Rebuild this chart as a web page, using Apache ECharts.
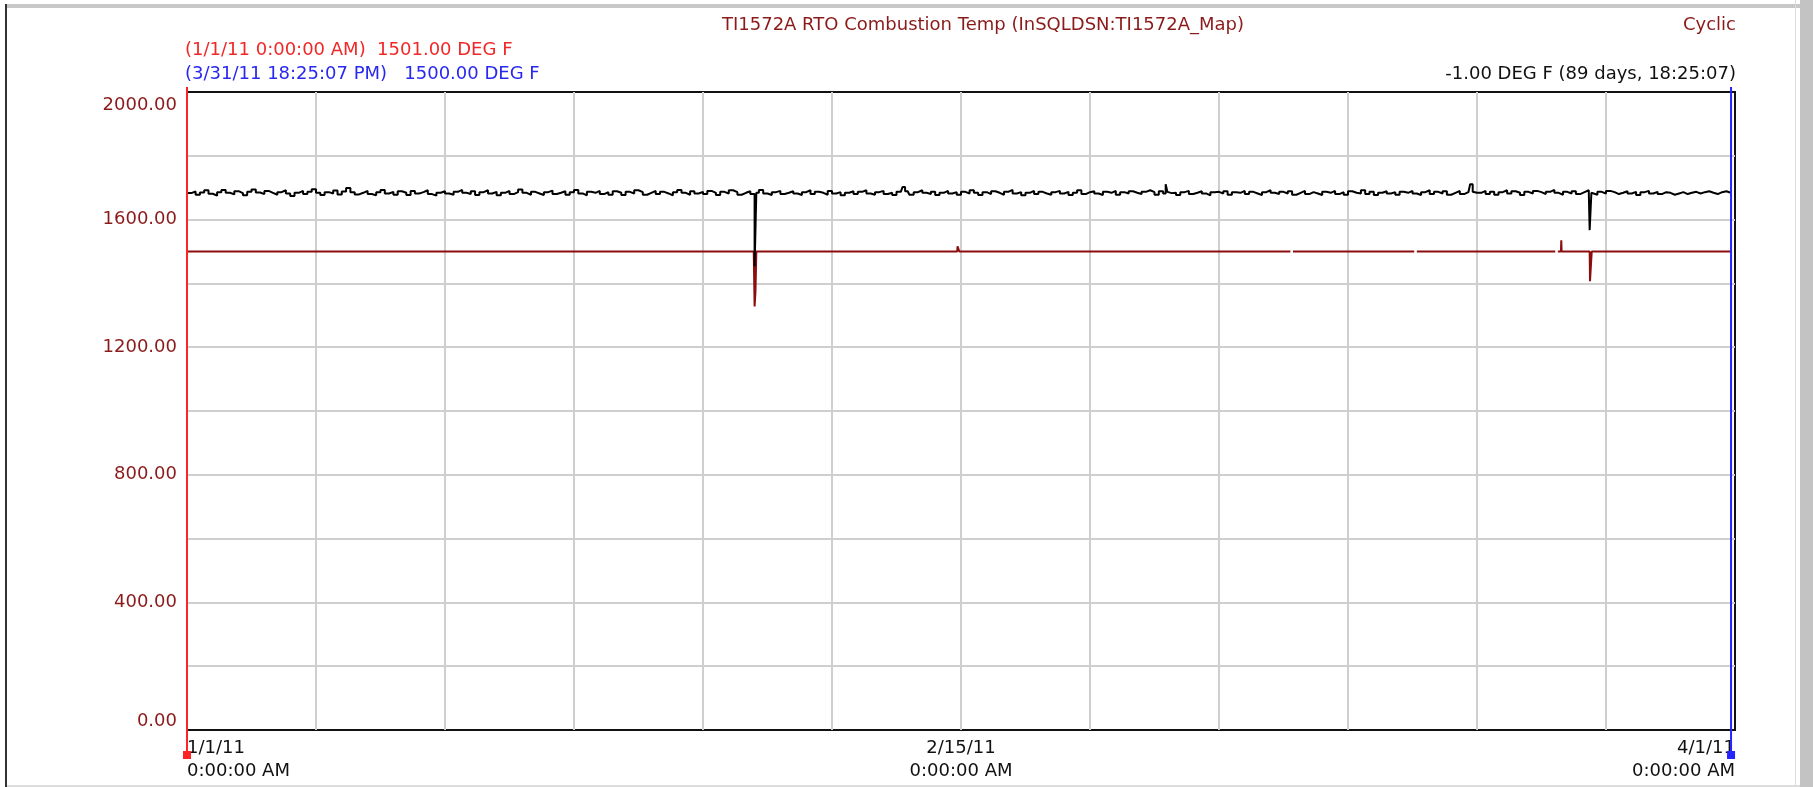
<!DOCTYPE html>
<html>
<head>
<meta charset="utf-8">
<title>TI1572A RTO Combustion Temp</title>
<script src="https://cdn.jsdelivr.net/npm/echarts@6/dist/echarts.min.js"></script>
<style>
  html, body { margin: 0; padding: 0; background: #fff; }
  #trend { width: 1813px; height: 787px; }
</style>
</head>
<body>
<div id="trend"></div>
<script>
// header texts
const chartTitle = "TI1572A RTO Combustion Temp (InSQLDSN:TI1572A_Map)";
const modeLabel = "Cyclic";
const startCursorText = "(1/1/11 0:00:00 AM)  1501.00 DEG F";
const endCursorText = "(3/31/11 18:25:07 PM)   1500.00 DEG F";
const deltaText = "-1.00 DEG F (89 days, 18:25:07)";

// x axis is days since 1/1/11 0:00:00 AM
const xTickDays = [0, 45, 90];
const xTickLabels = ["1/1/11\n0:00:00 AM", "2/15/11\n0:00:00 AM", "4/1/11\n0:00:00 AM"];
const yLabelValues = [0, 400, 800, 1200, 1600, 2000];

// cursors: start (red) and end (blue)
const cursorDays = [0, 89.77];
const cursorColors = ["#ff2424", "#2424ff"];

// black pen, sampled every quarter day
const blackStep = 0.25;
const blackVals = [
  1683, 1688, 1678, 1685, 1692, 1681, 1675, 1686, 1693, 1684, 1679, 1689, 1683, 1676, 1687, 1694, 1685, 1680, 1690, 1684,
  1678, 1686, 1692, 1682, 1674, 1684, 1690, 1680, 1687, 1695, 1684, 1677, 1686, 1682, 1691, 1679, 1688, 1699, 1686, 1679,
  1684, 1690, 1680, 1676, 1686, 1693, 1682, 1687, 1678, 1689, 1684, 1677, 1690, 1682, 1686, 1692, 1680, 1675, 1684, 1689,
  1682, 1678, 1687, 1693, 1684, 1680, 1689, 1677, 1686, 1692, 1682, 1687, 1676, 1684, 1690, 1680, 1686, 1694, 1684, 1678,
  1687, 1682, 1677, 1686, 1691, 1680, 1684, 1689, 1678, 1686, 1693, 1682, 1676, 1687, 1684, 1690, 1680, 1686, 1678, 1689,
  1684, 1677, 1687, 1682, 1692, 1686, 1678, 1684, 1690, 1680, 1687, 1682, 1676, 1686, 1693, 1684, 1678, 1689, 1682, 1687,
  1680, 1690, 1684, 1677, 1687, 1682, 1692, 1686, 1678, 1684, 1689, 1680, 1687, 1693, 1682, 1677, 1686, 1690, 1680, 1684,
  1689, 1682, 1677, 1686, 1692, 1680, 1687, 1684, 1678, 1690, 1682, 1686, 1676, 1684, 1689, 1680, 1687, 1692, 1682, 1678,
  1686, 1690, 1680, 1684, 1677, 1687, 1682, 1689, 1678, 1686, 1692, 1684, 1680, 1687, 1677, 1684, 1690, 1682, 1686, 1678,
  1687, 1682, 1692, 1684, 1677, 1686, 1680, 1689, 1684, 1678, 1687, 1693, 1682, 1686, 1676, 1684, 1690, 1680, 1687, 1682,
  1678, 1686, 1690, 1682, 1687, 1677, 1684, 1692, 1680, 1686, 1689, 1682, 1677, 1687, 1684, 1690, 1678, 1686, 1682, 1689,
  1684, 1680, 1687, 1692, 1686, 1678, 1689, 1682, 1687, 1684, 1677, 1686, 1690, 1680, 1684, 1689, 1682, 1676, 1686, 1687,
  1682, 1689, 1678, 1686, 1684, 1690, 1680, 1687, 1682, 1677, 1686, 1692, 1684, 1680, 1687, 1682, 1689, 1678, 1684, 1690,
  1680, 1686, 1682, 1677, 1687, 1684, 1690, 1680, 1686, 1678, 1689, 1684, 1682, 1692, 1680, 1687, 1677, 1684, 1689, 1682,
  1686, 1678, 1687, 1684, 1690, 1682, 1677, 1686, 1692, 1680, 1687, 1682, 1689, 1678, 1684, 1690, 1680, 1686, 1682, 1687,
  1684, 1690, 1680, 1687, 1678, 1686, 1692, 1682, 1689, 1684, 1677, 1687, 1682, 1690, 1686, 1680, 1687, 1693, 1684, 1678,
  1687, 1682, 1689, 1680, 1686, 1692, 1684, 1678, 1687, 1682, 1690, 1686, 1680, 1684, 1689, 1682, 1687, 1677, 1686, 1690,
  1682, 1687, 1680, 1686, 1684, 1678, 1682, 1686, 1680, 1684, 1687, 1682, 1686, 1689, 1684, 1680, 1686, 1689, 1684, 1687
];
// black pen excursions [day, value]
const blackEvents = [
  [33.0, 1454], [33.1, 1684],
  [41.6, 1702], [41.9, 1684],
  [56.9, 1711], [57.1, 1683],
  [74.6, 1711], [74.8, 1684],
  [81.55, 1567], [81.65, 1684],
  [89.77, 1685]
];

// dark red pen [day, value], null = no data
const redDays = [
  0, 13.95, 14.0, 14.05, 32.95, 33.0, 33.05, 33.1, 34.15, 34.2, 34.25, 35.65, 35.7, 35.75,
  43.75, 43.8, 43.85, 44.78, 44.8, 44.88, 44.9, 64.15, 64.2, 64.3, 71.05, 71.1, 71.15, 71.35, 71.4, 71.5,
  74.75, 74.8, 74.85, 79.55, 79.6, 79.7, 79.88, 79.9, 79.92, 80.75, 80.8, 80.85,
  81.55, 81.57, 81.65, 81.67, 87.85, 87.9, 87.95, 89.77
];
const redVals = [
  1500, 1500, 1506, 1500, 1500, 1328, 1375, 1500, 1500, 1494, 1500, 1500, 1504, 1500,
  1500, 1494, 1500, 1500, 1516, 1516, 1500, 1500, null, 1500, 1500, 1504, 1500, 1500, null, 1500,
  1500, 1504, 1500, 1500, null, 1500, 1500, 1535, 1500, 1500, 1494, 1500,
  1500, 1407, 1407, 1500, 1500, 1494, 1500, 1500
];

// merge black samples with excursions
const blackMap = new Map();
blackVals.forEach((v, i) => blackMap.set(+(i * blackStep).toFixed(2), v));
blackEvents.forEach(([d, v]) => blackMap.set(d, v));
const blackData = [...blackMap.entries()].sort((a, b) => a[0] - b[0]);
const redData = redDays.map((d, i) => [d, redVals[i] === null ? "-" : redVals[i]]);

const font = '"DejaVu Sans", sans-serif';
const fontSize = 18;
const labelRed = "#8b1a1a";

const chart = echarts.init(document.getElementById("trend"));
chart.setOption({
  animation: false,
  backgroundColor: "#fff",
  grid: {
    left: 187, right: 78, top: 92, bottom: 57,
    show: true, borderColor: "#111", borderWidth: 2
  },
  xAxis: {
    type: "value", min: 0, max: 90, interval: 7.5,
    axisLine: { show: false }, axisTick: { show: false },
    splitLine: { show: true, showMinLine: false, showMaxLine: false, lineStyle: { color: "#cfcfcf", width: 2 } },
    axisLabel: {
      show: true, margin: 7, color: "#111", fontFamily: font, fontSize: fontSize, lineHeight: 23,
      showMinLabel: true, showMaxLabel: true,
      alignMinLabel: "left", alignMaxLabel: "right",
      formatter: v => {
        const k = xTickDays.indexOf(v);
        return k < 0 ? "" : xTickLabels[k];
      }
    }
  },
  yAxis: {
    type: "value", min: 0, max: 2000, interval: 200,
    axisLine: { show: false }, axisTick: { show: false },
    splitLine: { show: true, showMinLine: false, showMaxLine: false, lineStyle: { color: "#cfcfcf", width: 2 } },
    axisLabel: {
      margin: 10, color: labelRed, fontFamily: font, fontSize: fontSize,
      showMinLabel: true, showMaxLabel: true,
      verticalAlignMinLabel: "bottom", verticalAlignMaxLabel: "top",
      formatter: v => {
        if (yLabelValues.indexOf(v) < 0) return "";
        return v === 2000 ? "{top|" + v.toFixed(2) + "}" : v.toFixed(2);
      },
      rich: {
        top: { padding: [4, 0, 0, 0], color: labelRed, fontFamily: font, fontSize: fontSize }
      }
    }
  },
  series: [
    {
      name: "TI1572A", type: "line", data: blackData, step: "end",
      showSymbol: false, symbol: "none",
      lineStyle: { color: "#000", width: 2 }, z: 4
    },
    {
      name: "TI1572A_Map", type: "line", data: redData, connectNulls: false,
      showSymbol: false, symbol: "none",
      lineStyle: { color: "#8b0d0d", width: 2 }, z: 3
    },
    {
      name: "cursors", type: "custom", clip: false, z: 10, silent: true,
      data: cursorDays.map(d => [d]),
      renderItem: (params, api) => {
        const x = api.coord([api.value(0), 0])[0];
        const cs = params.coordSys;
        const c = cursorColors[params.dataIndex];
        const bottom = cs.y + cs.height;
        return {
          type: "group",
          children: [
            { type: "line", shape: { x1: x, y1: cs.y - 5, x2: x, y2: bottom + 22 }, style: { stroke: c, lineWidth: 2 } },
            { type: "rect", shape: { x: x - 4, y: bottom + 21, width: 8, height: 8 }, style: { fill: c } }
          ]
        };
      }
    }
  ],
  graphic: [
    // window frame
    { type: "rect", shape: { x: 6, y: 4, width: 1794, height: 4 }, style: { fill: "#c8c8c8" }, silent: true },
    { type: "rect", shape: { x: 5, y: 4, width: 2, height: 783 }, style: { fill: "#333" }, silent: true },
    { type: "rect", shape: { x: 1795, y: 0, width: 1, height: 787 }, style: { fill: "#dcdcdc" }, silent: true },
    { type: "rect", shape: { x: 1800, y: 0, width: 13, height: 787 }, style: { fill: "#c3c3c3" }, silent: true },
    { type: "rect", shape: { x: 7, y: 785, width: 1793, height: 2 }, style: { fill: "#dcdcdc" }, silent: true },
    // header texts
    { type: "text", x: 983, y: 25, style: { text: chartTitle, fill: labelRed, font: fontSize + "px " + font, textAlign: "center", textVerticalAlign: "middle", align: "center", verticalAlign: "middle" } },
    { type: "text", x: 1736, y: 25, style: { text: modeLabel, fill: labelRed, font: fontSize + "px " + font, textAlign: "right", textVerticalAlign: "middle", align: "right", verticalAlign: "middle" } },
    { type: "text", x: 185, y: 50, style: { text: startCursorText, fill: "#f02828", font: fontSize + "px " + font, textAlign: "left", textVerticalAlign: "middle", align: "left", verticalAlign: "middle" } },
    { type: "text", x: 185, y: 74, style: { text: endCursorText, fill: "#2828f0", font: fontSize + "px " + font, textAlign: "left", textVerticalAlign: "middle", align: "left", verticalAlign: "middle" } },
    { type: "text", x: 1736, y: 74, style: { text: deltaText, fill: "#111", font: fontSize + "px " + font, textAlign: "right", textVerticalAlign: "middle", align: "right", verticalAlign: "middle" } }
  ]
});
</script>
</body>
</html>
